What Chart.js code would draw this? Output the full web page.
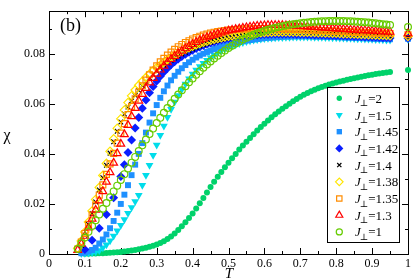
<!DOCTYPE html>
<html>
<head>
<meta charset="utf-8">
<script src="https://cdn.jsdelivr.net/npm/chart.js@4"></script>
<style>
  html, body { margin: 0; padding: 0; background: #fff; }
  #wrap { width: 415px; height: 280px; }
</style>
</head>
<body>
<div id="wrap"><canvas id="myChart" width="415" height="280"></canvas></div>
<script>
// temperature grid (0.08 .. 0.95 step 0.01, then T = 1)
var temps = [0.08,0.09,
  0.10,0.11,0.12,0.13,0.14,0.15,0.16,0.17,0.18,0.19,
  0.20,0.21,0.22,0.23,0.24,0.25,0.26,0.27,0.28,0.29,
  0.30,0.31,0.32,0.33,0.34,0.35,0.36,0.37,0.38,0.39,
  0.40,0.41,0.42,0.43,0.44,0.45,0.46,0.47,0.48,0.49,
  0.50,0.51,0.52,0.53,0.54,0.55,0.56,0.57,0.58,0.59,
  0.60,0.61,0.62,0.63,0.64,0.65,0.66,0.67,0.68,0.69,
  0.70,0.71,0.72,0.73,0.74,0.75,0.76,0.77,0.78,0.79,
  0.80,0.81,0.82,0.83,0.84,0.85,0.86,0.87,0.88,0.89,
  0.90,0.91,0.92,0.93,0.94,0.95,
  1.00];

var jperp = ["2", "1.5", "1.45", "1.42", "1.4", "1.38", "1.35", "1.3", "1"];

var chiJ2 = [null,null,
  0.0001,0.0001,0.0002,0.0002,0.0003,0.0003,0.0004,0.0005,0.0006,0.0007,
  0.0008,0.0010,0.0012,0.0014,0.0016,0.0019,0.0022,0.0025,0.0029,0.0033,
  0.0038,0.0044,0.0051,0.0060,0.0070,0.0082,0.0096,0.0111,0.0127,0.0144,
  0.0162,0.0182,0.0203,0.0224,0.0246,0.0268,0.0289,0.0309,0.0328,0.0347,
  0.0365,0.0383,0.0400,0.0417,0.0433,0.0448,0.0463,0.0478,0.0493,0.0507,
  0.0520,0.0533,0.0546,0.0558,0.0569,0.0580,0.0590,0.0600,0.0610,0.0619,
  0.0628,0.0636,0.0643,0.0650,0.0656,0.0662,0.0667,0.0672,0.0677,0.0681,
  0.0685,0.0689,0.0692,0.0696,0.0699,0.0702,0.0705,0.0708,0.0711,0.0714,
  0.0716,0.0719,0.0721,0.0723,0.0725,0.0727,
  0.0735];

var chiJ150 = [null,0.0002,
  0.0003,0.0004,0.0006,0.0009,0.0014,0.0025,0.0037,0.0053,0.0072,0.0093,
  0.0115,0.0138,0.0163,0.0186,0.0210,0.0235,0.0275,0.0315,0.0355,0.0395,
  0.0435,0.0474,0.0511,0.0546,0.0578,0.0607,0.0633,0.0657,0.0679,0.0700,
  0.0719,0.0735,0.0749,0.0762,0.0774,0.0785,0.0795,0.0804,0.0812,0.0819,
  0.0825,0.0831,0.0836,0.0841,0.0845,0.0849,0.0852,0.0855,0.0857,0.0859,
  0.0861,0.0862,0.0863,0.0864,0.0865,0.0865,0.0866,0.0866,0.0867,0.0867,
  0.0867,0.0867,0.0867,0.0867,0.0866,0.0866,0.0866,0.0865,0.0865,0.0864,
  0.0864,0.0863,0.0863,0.0862,0.0862,0.0861,0.0860,0.0860,0.0859,0.0859,
  0.0858,0.0857,0.0857,0.0856,0.0855,0.0855,
  0.0858];

var chiJ145 = [null,0.0003,
  0.0006,0.0010,0.0016,0.0025,0.0042,0.0058,0.0078,0.0103,0.0132,0.0165,
  0.0200,0.0237,0.0275,0.0315,0.0357,0.0400,0.0443,0.0485,0.0525,0.0562,
  0.0595,0.0624,0.0650,0.0673,0.0694,0.0712,0.0728,0.0742,0.0755,0.0766,
  0.0776,0.0785,0.0793,0.0800,0.0807,0.0813,0.0819,0.0824,0.0829,0.0833,
  0.0837,0.0841,0.0844,0.0847,0.0850,0.0853,0.0855,0.0857,0.0859,0.0861,
  0.0863,0.0864,0.0865,0.0866,0.0867,0.0868,0.0869,0.0869,0.0870,0.0870,
  0.0870,0.0870,0.0870,0.0870,0.0869,0.0869,0.0869,0.0868,0.0868,0.0867,
  0.0867,0.0866,0.0866,0.0865,0.0865,0.0864,0.0863,0.0863,0.0862,0.0862,
  0.0861,0.0860,0.0860,0.0859,0.0859,0.0858,
  0.0860];

var chiJ142 = [null,null,
  0.0018,null,0.0055,null,0.0103,null,0.0158,null,0.0225,null,
  0.0310,0.0357,0.0405,0.0455,0.0503,0.0545,0.0582,0.0615,0.0644,0.0669,
  0.0691,0.0710,0.0727,0.0742,0.0756,0.0768,0.0779,0.0789,0.0798,0.0806,
  0.0814,0.0821,0.0827,0.0833,0.0838,0.0843,0.0847,0.0851,0.0855,0.0858,
  0.0861,0.0864,0.0866,0.0868,0.0870,0.0872,0.0873,0.0874,0.0875,0.0876,
  0.0877,0.0877,0.0878,0.0878,0.0878,0.0878,0.0878,0.0878,0.0878,0.0877,
  0.0877,0.0877,0.0876,0.0876,0.0875,0.0875,0.0874,0.0874,0.0873,0.0873,
  0.0872,0.0872,0.0871,0.0870,0.0870,0.0869,0.0869,0.0868,0.0867,0.0867,
  0.0866,0.0866,0.0865,0.0864,0.0864,0.0863,
  0.0862];

var chiJ140 = [null,0.0035,
  0.0075,0.0118,0.0162,0.0208,0.0256,0.0305,0.0355,0.0403,0.0448,0.0490,
  0.0527,0.0559,0.0587,0.0612,0.0634,0.0654,0.0672,0.0689,0.0704,0.0718,
  0.0731,0.0743,0.0754,0.0764,0.0774,0.0783,0.0791,0.0799,0.0806,0.0813,
  0.0819,0.0825,0.0831,0.0836,0.0841,0.0846,0.0850,0.0854,0.0858,0.0861,
  0.0864,0.0867,0.0870,0.0872,0.0874,0.0876,0.0878,0.0879,0.0880,0.0881,
  0.0882,0.0883,0.0883,0.0884,0.0884,0.0884,0.0884,0.0884,0.0884,0.0883,
  0.0883,0.0883,0.0882,0.0882,0.0881,0.0881,0.0880,0.0880,0.0879,0.0879,
  0.0878,0.0877,0.0877,0.0876,0.0876,0.0875,0.0874,0.0874,0.0873,0.0873,
  0.0872,0.0871,0.0871,0.0870,0.0870,0.0869,
  0.0866];

var chiJ138 = [0.0023,0.0052,
  0.0088,0.0128,0.0172,0.0218,0.0266,0.0314,0.0362,0.0410,0.0460,0.0502,
  0.0540,0.0575,0.0605,0.0632,0.0655,0.0674,0.0690,0.0705,0.0719,0.0732,
  0.0744,0.0755,0.0766,0.0776,0.0785,0.0794,0.0802,0.0810,0.0817,0.0824,
  0.0830,0.0836,0.0841,0.0846,0.0850,0.0854,0.0858,0.0861,0.0864,0.0867,
  0.0870,0.0872,0.0874,0.0876,0.0878,0.0879,0.0881,0.0882,0.0883,0.0884,
  0.0885,0.0886,0.0886,0.0887,0.0887,0.0887,0.0887,0.0887,0.0887,0.0887,
  0.0886,0.0886,0.0886,0.0885,0.0885,0.0884,0.0884,0.0883,0.0883,0.0882,
  0.0882,0.0881,0.0880,0.0880,0.0879,0.0879,0.0878,0.0877,0.0877,0.0876,
  0.0876,0.0875,0.0874,0.0874,0.0873,0.0872,
  0.0869];

var chiJ135 = [0.0020,0.0048,
  0.0082,0.0118,0.0156,0.0195,0.0235,0.0276,0.0318,0.0360,0.0402,0.0443,
  0.0483,0.0521,0.0557,0.0590,0.0620,0.0647,0.0672,0.0695,0.0716,0.0735,
  0.0752,0.0768,0.0782,0.0795,0.0807,0.0818,0.0828,0.0837,0.0845,0.0852,
  0.0859,0.0865,0.0870,0.0875,0.0879,0.0883,0.0886,0.0889,0.0891,0.0893,
  0.0895,0.0896,0.0897,0.0898,0.0899,0.0900,0.0900,0.0901,0.0901,0.0901,
  0.0901,0.0901,0.0901,0.0900,0.0900,0.0900,0.0899,0.0899,0.0898,0.0898,
  0.0897,0.0897,0.0896,0.0895,0.0895,0.0894,0.0893,0.0893,0.0892,0.0891,
  0.0891,0.0890,0.0889,0.0889,0.0888,0.0887,0.0887,0.0886,0.0885,0.0885,
  0.0884,0.0883,0.0883,0.0882,0.0881,0.0881,
  0.0876];

var chiJ130 = [0.0015,0.0040,
  0.0072,0.0105,0.0140,0.0176,0.0213,0.0250,0.0288,0.0326,0.0364,0.0402,
  0.0440,0.0478,0.0515,0.0550,0.0583,0.0612,0.0639,0.0663,0.0685,0.0703,
  0.0720,0.0736,0.0751,0.0765,0.0778,0.0790,0.0801,0.0811,0.0821,0.0830,
  0.0838,0.0846,0.0853,0.0859,0.0865,0.0870,0.0875,0.0879,0.0884,0.0888,
  0.0892,0.0895,0.0898,0.0900,0.0903,0.0905,0.0907,0.0909,0.0911,0.0912,
  0.0913,0.0914,0.0914,0.0914,0.0914,0.0914,0.0913,0.0913,0.0912,0.0911,
  0.0910,0.0909,0.0908,0.0907,0.0906,0.0905,0.0904,0.0903,0.0902,0.0901,
  0.0900,0.0899,0.0898,0.0897,0.0896,0.0895,0.0894,0.0893,0.0893,0.0892,
  0.0891,0.0890,0.0889,0.0889,0.0888,0.0887,
  0.0881];

var chiJ1 = [0.0020,0.0043,
  0.0066,0.0089,0.0112,0.0135,0.0158,0.0181,0.0204,0.0227,0.0250,0.0273,
  0.0296,0.0319,0.0342,0.0365,0.0388,0.0411,0.0434,0.0457,0.0479,0.0501,
  0.0523,0.0544,0.0564,0.0583,0.0602,0.0620,0.0637,0.0654,0.0670,0.0686,
  0.0701,0.0716,0.0730,0.0744,0.0757,0.0769,0.0781,0.0792,0.0803,0.0813,
  0.0823,0.0832,0.0841,0.0849,0.0857,0.0864,0.0870,0.0876,0.0882,0.0887,
  0.0892,0.0896,0.0900,0.0904,0.0907,0.0910,0.0913,0.0916,0.0918,0.0920,
  0.0922,0.0924,0.0925,0.0927,0.0928,0.0929,0.0930,0.0930,0.0931,0.0931,
  0.0931,0.0931,0.0931,0.0930,0.0930,0.0929,0.0928,0.0927,0.0926,0.0925,
  0.0923,0.0922,0.0920,0.0918,0.0917,0.0915,
  0.0907];

var xTicks = [0, 0.1, 0.2, 0.3, 0.4, 0.5, 0.6, 0.7, 0.8, 0.9, 1];
var yTicks = [0, 0.02, 0.04, 0.06, 0.08];

var serif = "'Liberation Serif', 'DejaVu Serif', serif";

function toPoints(vals) {
  var pts = [];
  for (var i = 0; i < temps.length; i++) {
    if (vals[i] !== null) pts.push({x: temps[i], y: vals[i]});
  }
  return pts;
}

var none = "rgba(0,0,0,0)";
var styles = [
  {data: chiJ2,   pointStyle: "circle",   rotation: 0,   radius: 3,   bg: "#00d26a", border: "#00d26a", bw: 0},
  {data: chiJ150, pointStyle: "triangle", rotation: 180, radius: 4.5, bg: "#00dcea", border: "#00dcea", bw: 0},
  {data: chiJ145, pointStyle: "rect",     rotation: 0,   radius: 4.2, bg: "#1e90ff", border: "#1e90ff", bw: 0},
  {data: chiJ142, pointStyle: "rectRot",  rotation: 0,   radius: 4.5, bg: "#0a1eff", border: "#0a1eff", bw: 0},
  {data: chiJ140, pointStyle: "crossRot", rotation: 0,   radius: 3.3, bg: none,      border: "#000000", bw: 1.2},
  {data: chiJ138, pointStyle: "rectRot",  rotation: 0,   radius: 4.2, bg: none,      border: "#ffe600", bw: 1.2},
  {data: chiJ135, pointStyle: "rect",     rotation: 0,   radius: 4.2, bg: none,      border: "#ff8c00", bw: 1.2},
  {data: chiJ130, pointStyle: "triangle", rotation: 0,   radius: 4.5, bg: none,      border: "#ff0000", bw: 1.2},
  {data: chiJ1,   pointStyle: "circle",   rotation: 0,   radius: 3.4, bg: none,      border: "#66cc00", bw: 1.2}
];

var datasets = styles.map(function (s, i) {
  return {
    label: "J=" + jperp[i],
    data: toPoints(s.data),
    showLine: false,
    pointStyle: s.pointStyle,
    rotation: s.rotation,
    pointRadius: s.radius,
    pointBackgroundColor: s.bg,
    pointBorderColor: s.border,
    pointBorderWidth: s.bw,
    clip: false,
    order: styles.length - i
  };
});

// inward ticks on all sides, frame, axis labels, panel label and legend box
var decor = {
  id: "decor",
  beforeDatasetsDraw: function (chart) {
    var ctx = chart.ctx, a = chart.chartArea;
    var xs = chart.scales.x, ys = chart.scales.y;
    ctx.save();
    ctx.strokeStyle = "#000";
    ctx.lineWidth = 1;
    ctx.strokeRect(Math.round(a.left) + 0.5, Math.round(a.top) + 0.5,
      Math.round(a.right - a.left), Math.round(a.bottom - a.top));
    ctx.beginPath();
    for (var i = 0; i <= 20; i++) {
      var px = Math.round(xs.getPixelForValue(i * 0.05)) + 0.5;
      var len = i % 2 === 0 ? 6 : 3;
      ctx.moveTo(px, a.bottom); ctx.lineTo(px, a.bottom - len);
      ctx.moveTo(px, a.top); ctx.lineTo(px, a.top + len);
    }
    for (var j = 0; j <= 9; j++) {
      var py = Math.round(ys.getPixelForValue(j * 0.01)) + 0.5;
      var ln = j % 2 === 0 ? 6 : 3;
      ctx.moveTo(a.left, py); ctx.lineTo(a.left + ln, py);
      ctx.moveTo(a.right, py); ctx.lineTo(a.right - ln, py);
    }
    ctx.stroke();
    ctx.restore();
  },
  afterDatasetsDraw: function (chart) {
    var ctx = chart.ctx;
    ctx.save();
    ctx.fillStyle = "#000";
    ctx.textBaseline = "alphabetic";
    ctx.textAlign = "center";
    ctx.font = "16px " + serif;
    ctx.fillText("\u03c7", 7, 140);
    ctx.font = "italic 15px " + serif;
    ctx.fillText("T", 229, 278);
    ctx.textAlign = "left";
    ctx.font = "18px " + serif;
    ctx.fillText("(b)", 60, 31);

    // legend
    var bx = 327.5, by = 87.5, bw = 72, bh = 155;
    ctx.fillStyle = "#fff";
    ctx.fillRect(bx, by, bw, bh);
    ctx.strokeStyle = "#000";
    ctx.lineWidth = 1;
    ctx.strokeRect(bx, by, bw, bh);
    for (var i = 0; i < styles.length; i++) {
      var s = styles[i];
      var cy = 98.3 + i * 16.7;
      ctx.fillStyle = s.bg;
      ctx.strokeStyle = s.border;
      ctx.lineWidth = s.bw;
      Chart.helpers.drawPoint(ctx, {
        pointStyle: s.pointStyle, rotation: s.rotation,
        radius: s.radius * 0.9, borderWidth: s.bw
      }, 339.3, cy);
      ctx.fillStyle = "#000";
      var tx = 355;
      ctx.font = "italic 13px " + serif;
      ctx.fillText("J", tx, cy + 4.5);
      tx += ctx.measureText("J").width - 1;
      ctx.font = "9px " + serif;
      ctx.fillText("\u22a5", tx, cy + 8);
      tx += ctx.measureText("\u22a5").width;
      ctx.font = "13px " + serif;
      ctx.fillText("=" + jperp[i], tx, cy + 4.5);
    }
    ctx.restore();
  }
};

new Chart("myChart", {
  type: "scatter",
  data: {datasets: datasets},
  options: {
    responsive: false,
    animation: false,
    layout: {padding: {left: 0, right: 7, top: 2, bottom: 0}},
    plugins: {legend: {display: false}, tooltip: {enabled: false}},
    scales: {
      x: {
        type: "linear", min: 0, max: 1,
        grid: {display: false, drawTicks: false},
        border: {display: false},
        afterBuildTicks: function (s) { s.ticks = xTicks.map(function (v) { return {value: v}; }); },
        ticks: {
          autoSkip: false, maxRotation: 0, padding: 3, color: "#000",
          font: {family: serif, size: 12},
          callback: function (v) { return String(+v.toFixed(2)); }
        },
        afterFit: function (s) { s.height = 26; }
      },
      y: {
        type: "linear", min: 0, max: 0.097,
        grid: {display: false, drawTicks: false},
        border: {display: false},
        afterBuildTicks: function (s) { s.ticks = yTicks.map(function (v) { return {value: v}; }); },
        ticks: {
          autoSkip: false, padding: 4, color: "#000",
          font: {family: serif, size: 12},
          callback: function (v) { return String(+v.toFixed(2)); }
        },
        afterFit: function (s) { s.width = 49; }
      }
    }
  },
  plugins: [decor]
});
</script>
</body>
</html>
